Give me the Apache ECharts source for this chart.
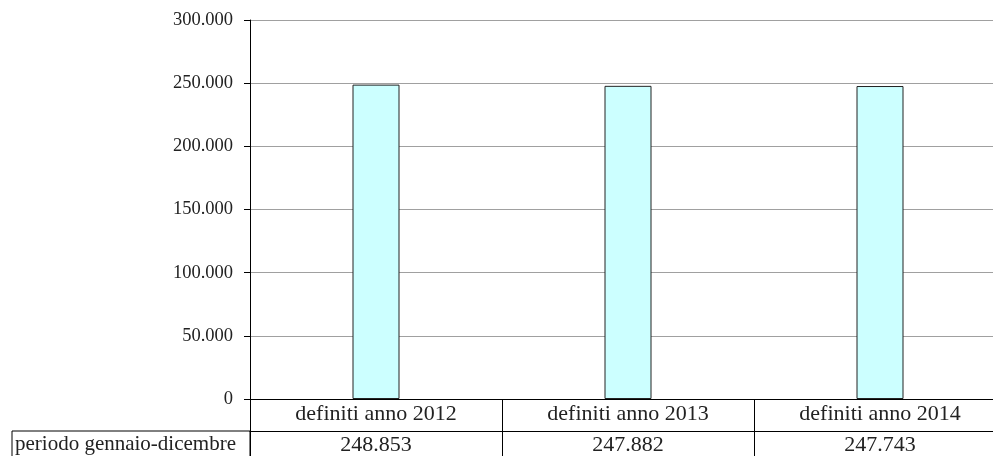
<!DOCTYPE html>
<html>
<head>
<meta charset="utf-8">
<script src="https://cdn.jsdelivr.net/npm/echarts@6/dist/echarts.min.js"></script>
<style>html,body{margin:0;padding:0;background:#fff;overflow:hidden;width:993px;height:456px}#c{width:1006px;height:456px}</style>
</head>
<body>
<div id="c"></div>
<script>
var categories = ['definiti anno 2012', 'definiti anno 2013', 'definiti anno 2014'];
var values = [248853, 247882, 247743];
var rowLabel = 'periodo gennaio-dicembre';
var yMin = 0, yMax = 300000, yStep = 50000;

function fmt(v) { return String(v).replace(/\B(?=(\d{3})+(?!\d))/g, '.'); }

var FONT = '"Liberation Serif", "DejaVu Serif", serif';
var chart = echarts.init(document.getElementById('c'), null, {renderer: 'canvas'});
chart.setOption({
  animation: false,
  grid: {left: 250, right: 0, top: 20, bottom: 57, containLabel: false},
  xAxis: [{
    type: 'category', data: categories, position: 'bottom',
    axisLine: {show: true, lineStyle: {color: '#000', width: 1}},
    axisTick: {show: true, interval: 0, length: 60, lineStyle: {color: '#000'}},
    axisLabel: {interval: 0, margin: 4, color: '#222', fontFamily: FONT, fontSize: 22},
    splitLine: {show: false}
  }, {
    type: 'category', data: categories, position: 'bottom', offset: 32,
    axisLine: {show: true, lineStyle: {color: '#000', width: 1}},
    axisTick: {show: false},
    axisLabel: {interval: 0, margin: 3, color: '#222', fontFamily: FONT, fontSize: 22,
      formatter: function (v, i) { return fmt(values[i]); }},
    splitLine: {show: false}
  }],
  yAxis: {
    type: 'value', min: yMin, max: yMax, interval: yStep,
    axisLine: {show: true, lineStyle: {color: '#000', width: 1}},
    axisTick: {show: true, inside: false, length: 6, lineStyle: {color: '#000'}},
    axisLabel: {margin: 17, color: '#222', fontFamily: FONT, fontSize: 18.5, formatter: function (v) { return fmt(v); }},
    splitLine: {show: true, lineStyle: {color: '#a0a0a0', width: 1}}
  },
  series: [{
    type: 'bar', data: values, barWidth: 47, xAxisIndex: 0,
    itemStyle: {color: '#ccffff', borderColor: '#222', borderWidth: 1}
  }],
  graphic: [{
    type: 'rect', shape: {x: 12, y: 431, width: 238, height: 40},
    style: {fill: 'none', stroke: '#000', lineWidth: 1}
  }, {
    type: 'text', x: 15, y: 444,
    style: {text: rowLabel, fontFamily: FONT, fontSize: 21, fill: '#222', verticalAlign: 'middle', align: 'left'}
  }]
});
</script>
</body>
</html>
